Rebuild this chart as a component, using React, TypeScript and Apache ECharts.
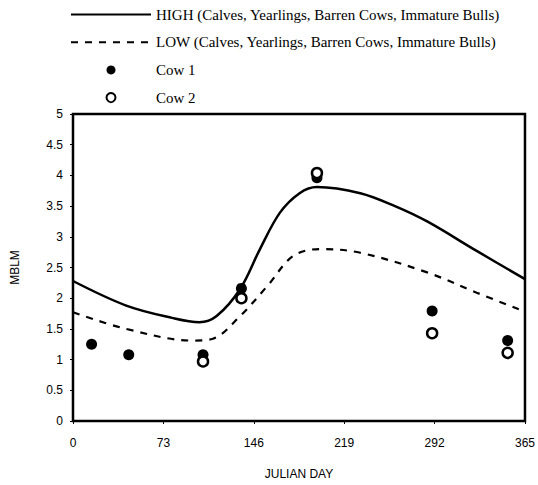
import React, { useEffect, useRef } from "react";
import * as echarts from "echarts";

const highDays = [0, 43, 80, 102, 116, 135, 151, 167, 183, 197, 232, 260, 286, 326, 365];
const highValues = [2.28, 1.88, 1.68, 1.61, 1.71, 2.15, 2.8, 3.39, 3.71, 3.81, 3.71, 3.5, 3.25, 2.77, 2.31];

const lowDays = [0, 43, 97, 113, 135, 157, 178, 200, 232, 286, 326, 360];
const lowValues = [1.77, 1.5, 1.31, 1.34, 1.71, 2.2, 2.69, 2.8, 2.74, 2.42, 2.09, 1.82];

const cow1Days = [15, 45, 105, 136, 197, 290, 351];
const cow1Values = [1.25, 1.08, 1.08, 2.16, 3.96, 1.79, 1.31];

const cow2Days = [105, 136, 197, 290, 351];
const cow2Values = [0.97, 2.0, 4.04, 1.43, 1.11];

const xMin = 0;
const xMax = 365;
const yMin = 0;
const yMax = 5;
const xTicks = [0, 73, 146, 219, 292, 365];
const yTicks = [0, 0.5, 1, 1.5, 2, 2.5, 3, 3.5, 4, 4.5, 5];

const seriesNames = [
  "HIGH (Calves, Yearlings, Barren Cows, Immature Bulls)",
  "LOW (Calves, Yearlings, Barren Cows, Immature Bulls)",
  "Cow 1",
  "Cow 2",
];

const zip = (a: number[], b: number[]) => a.map((v, i) => [v, b[i]]);

export default function App() {
  const ref = useRef<HTMLDivElement>(null);
  useEffect(() => {
    if (!ref.current) return;
    const chart = echarts.init(ref.current, null, { renderer: "svg" });
    const sans = "Liberation Sans, Arial, sans-serif";
    chart.setOption({
      animation: false,
      backgroundColor: "#ffffff",
      legend: {
        orient: "vertical",
        left: 65,
        top: 2,
        itemWidth: 80,
        itemHeight: 9,
        itemGap: 12.7,
        data: [
          { name: seriesNames[0], itemStyle: { opacity: 0 } },
          { name: seriesNames[1], itemStyle: { opacity: 0 } },
          { name: seriesNames[2] },
          { name: seriesNames[3] },
        ],
        textStyle: { fontFamily: "Liberation Serif, Times New Roman, serif", fontSize: 15, color: "#000" },
      },
      grid: {
        left: 73,
        top: 114,
        right: 13,
        bottom: 63,
        show: true,
        borderColor: "#000",
        borderWidth: 2,
        backgroundColor: "rgba(0,0,0,0)",
      },
      xAxis: {
        type: "value",
        min: xMin,
        max: xMax,
        interval: 73,
        name: "JULIAN DAY",
        nameLocation: "middle",
        nameGap: 47,
        nameTextStyle: { fontFamily: sans, fontSize: 12, color: "#000" },
        axisLine: { show: true, onZero: false, lineStyle: { color: "#000", width: 2 } },
        axisTick: { show: true, length: 3, lineStyle: { color: "#000" } },
        axisLabel: {
          margin: 16,
          fontFamily: sans,
          fontSize: 12,
          color: "#000",
          formatter: (v: number) => (xTicks.includes(v) ? String(v) : ""),
        },
        splitLine: { show: false },
      },
      yAxis: {
        type: "value",
        min: yMin,
        max: yMax,
        interval: 0.5,
        name: "MBLM",
        nameLocation: "middle",
        nameGap: 52,
        nameTextStyle: { fontFamily: sans, fontSize: 12, color: "#000" },
        axisLine: { show: true, onZero: false, lineStyle: { color: "#000", width: 2 } },
        axisTick: { show: true, length: 3, lineStyle: { color: "#000" } },
        axisLabel: {
          margin: 10,
          fontFamily: sans,
          fontSize: 12,
          color: "#000",
          formatter: (v: number) => (yTicks.includes(v) ? String(v) : ""),
        },
        splitLine: { show: false },
      },
      series: [
        {
          name: seriesNames[0],
          type: "line",
          smooth: 0.35,
          symbol: "none",
          data: zip(highDays, highValues),
          lineStyle: { color: "#000", width: 2.5, type: "solid" },
          itemStyle: { color: "#000" },
          z: 2,
        },
        {
          name: seriesNames[1],
          type: "line",
          smooth: 0.35,
          symbol: "none",
          data: zip(lowDays, lowValues),
          lineStyle: { color: "#000", width: 2.2, type: [7, 7] },
          itemStyle: { color: "#000" },
          z: 2,
        },
        {
          name: seriesNames[2],
          type: "scatter",
          symbol: "circle",
          symbolSize: 11,
          data: zip(cow1Days, cow1Values),
          itemStyle: { color: "#000", opacity: 1 },
          z: 3,
        },
        {
          name: seriesNames[3],
          type: "scatter",
          symbol: "circle",
          symbolSize: 10,
          data: zip(cow2Days, cow2Values),
          itemStyle: { color: "#fff", borderColor: "#000", borderWidth: 2.5, opacity: 1 },
          z: 4,
        },
      ],
    });
    const tl = chart.convertToPixel({ gridIndex: 0 }, [xMin, yMax]) as number[];
    const br = chart.convertToPixel({ gridIndex: 0 }, [xMax, yMin]) as number[];
    if (tl && br) {
      chart.setOption({
        graphic: [
          {
            type: "rect",
            silent: true,
            z: 10,
            shape: { x: tl[0], y: tl[1], width: br[0] - tl[0], height: br[1] - tl[1] },
            style: { stroke: "#000", lineWidth: 2.5, fill: "rgba(0,0,0,0)" },
          },
        ],
      });
    }
    return () => chart.dispose();
  }, []);
  return (
    <div
      ref={ref}
      style={{ position: "fixed", left: 0, top: 0, width: 538, height: 485 }}
    />
  );
}
